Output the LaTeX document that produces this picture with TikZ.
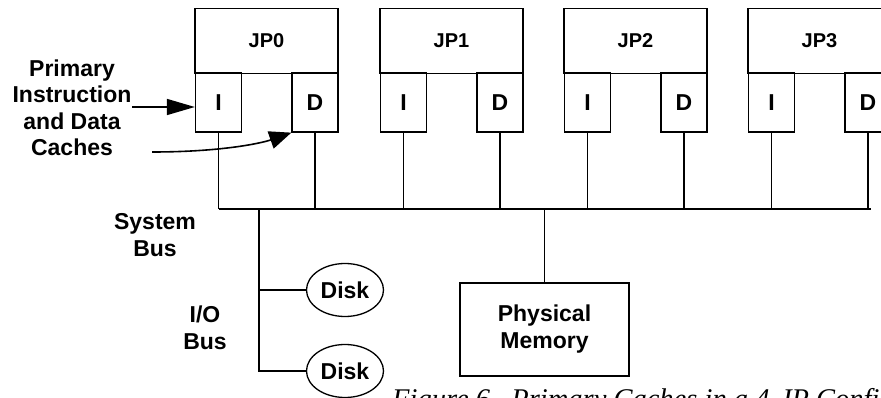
\documentclass[tikz,border=0pt]{standalone}
\usepackage{fontspec}
\setmainfont{Liberation Sans}
\newfontfamily\capfont{Liberation Serif}
\usetikzlibrary{arrows.meta,shapes.geometric}
\tikzset{
  lbl/.style={font=\bfseries\fontsize{23}{26.5}\selectfont, align=center, inner sep=0pt},
  jpbox/.style={draw, line width=1.3pt, minimum width=143pt, minimum height=65pt, inner sep=0pt, font=\bfseries\fontsize{20}{24}\selectfont},
  cachebox/.style={draw, line width=1.3pt, minimum width=46pt, minimum height=59pt, inner sep=0pt, font=\bfseries\fontsize{23}{24}\selectfont},
  disk/.style={draw, ellipse, line width=1.3pt, minimum width=77pt, minimum height=53pt, inner sep=0pt, font=\bfseries\fontsize{23}{26}\selectfont},
  membox/.style={draw, line width=1.3pt, minimum width=169pt, minimum height=93pt, inner sep=0pt, align=center, font=\bfseries\fontsize{23}{27}\selectfont},
  wire/.style={line width=1.4pt},
  pointer/.style={line width=1.6pt},
}
\begin{document}
\begin{tikzpicture}[x=1pt,y=-1pt]
\useasboundingbox (0,0) rectangle (881,398);
\clip (0,0) rectangle (881,398);
\coordinate (busL) at (219,209);
\coordinate (busR) at (871,209);
\foreach \n/\l in {0/195,1/380,2/564,3/748}{
  \node[jpbox] (jp\n) at (\l+71.5,41) {JP\n};
  \node[cachebox] (ci\n) at (\l+23.5,102.5) {I};
  \node[cachebox] (cd\n) at (\l+120,102.5) {D};
  \draw[wire] (ci\n.south) -- (ci\n.south |- busL);
  \draw[wire] (cd\n.south) -- (cd\n.south |- busL);
}
\draw[wire] (busL) -- (busR);
% system bus to I/O
\coordinate (io) at (259,209);
\node[disk] (d1) at (345,290) {Disk};
\node[disk] (d2) at (345,371) {Disk};
\draw[wire] (io) -- (io |- d2.west) -- (d2.west);
\draw[wire] (io |- d1.west) -- (d1.west);
\node[membox] (mem) at (544.5,329.5) {Physical\\Memory};
\draw[wire] (mem.north |- busL) -- (mem.north);
% labels
\node[lbl] (sys) at (155,235) {System\\Bus};
\node[lbl] (iob) at (205,328) {I/O\\Bus};
\node[lbl] (pc) at (72,108) {Primary\\Instruction\\and Data\\Caches};
\coordinate (a1) at (132,107);
\coordinate (a2) at (152,152);
\draw[pointer, -{Triangle[length=28pt,width=16pt]}] (a1) -- (a1 -| ci0.west);
\draw[pointer, -{Triangle[length=22pt,width=18pt]}] (a2) .. controls (222,152) and (262,143) .. (cd0.south west);
\node[anchor=base west, inner sep=0pt, font=\capfont\itshape\fontsize{28.5}{32}\selectfont] (cap) at (392,408) {Figure 6.\ \ Primary Caches in a 4-JP Configuration};
\end{tikzpicture}
\end{document}
